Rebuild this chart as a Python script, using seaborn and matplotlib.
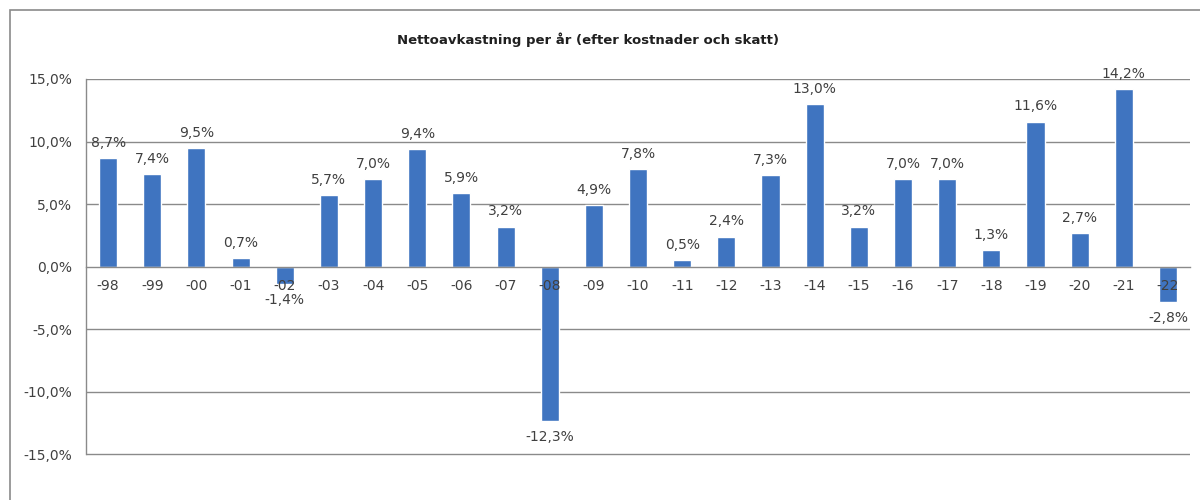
import matplotlib
matplotlib.use("Agg")
import matplotlib.pyplot as plt
import matplotlib.patches as mpatches
from matplotlib.ticker import FuncFormatter, FixedLocator
import seaborn as sns
import pandas as pd

years = ["-98", "-99", "-00", "-01", "-02", "-03", "-04", "-05", "-06", "-07", "-08", "-09",
         "-10", "-11", "-12", "-13", "-14", "-15", "-16", "-17", "-18", "-19", "-20", "-21", "-22"]
returns = [8.7, 7.4, 9.5, 0.7, -1.4, 5.7, 7.0, 9.4, 5.9, 3.2, -12.3, 4.9,
           7.8, 0.5, 2.4, 7.3, 13.0, 3.2, 7.0, 7.0, 1.3, 11.6, 2.7, 14.2, -2.8]
title = "Nettoavkastning per år (efter kostnader och skatt)"
yticks = [-15, -10, -5, 0, 5, 10, 15]

sns.set_theme(style="white")
plt.rcParams["font.family"] = ["DejaVu Sans"]

df = pd.DataFrame({"year": years, "ret": returns})

fig = plt.figure(figsize=(12, 5), dpi=100)
ax = fig.add_axes([0.0717, 0.088, 0.92, 0.754])

sns.barplot(data=df, x="year", y="ret", color="#3F74C0", saturation=1, width=0.41, ax=ax, zorder=2)
ax.set_axisbelow(False)

ax.set_ylim(-15.12, 15)
ax.set_xlim(-0.5, len(years) - 0.5)
ax.set_xlabel("")
ax.set_ylabel("")

ax.yaxis.set_major_locator(FixedLocator(yticks))
ax.yaxis.set_major_formatter(FuncFormatter(lambda v, p: f"{v:.1f}%".replace(".", ",")))
ax.grid(False)
for t in yticks:
    if t != 0:
        ax.axhline(t, color="#8a8a8a", linewidth=1.0, zorder=0)

for s in ["top", "right"]:
    ax.spines[s].set_visible(False)
ax.spines["left"].set_color("#8a8a8a")
ax.spines["left"].set_linewidth(1.0)
ax.spines["left"].set_bounds(-15, 15)
ax.spines["bottom"].set_position(("data", 0))
ax.spines["bottom"].set_color("#8a8a8a")
ax.spines["bottom"].set_linewidth(1.0)

ax.tick_params(axis="y", which="major", length=4, width=1, color="#8a8a8a", direction="out",
               labelsize=10, labelcolor="#404040", pad=6)
ax.tick_params(axis="x", which="major", length=0, labelsize=10, labelcolor="#404040", pad=9)
ax.set_xticks([i + 0.5 for i in range(len(years) - 1)], minor=True)
ax.tick_params(axis="x", which="minor", length=4, width=1, color="#8a8a8a", direction="out")

for i, v in enumerate(returns):
    txt = f"{v:.1f}%".replace(".", ",")
    if v >= 0:
        ax.annotate(txt, (i, v), xytext=(0, 6), textcoords="offset points",
                    ha="center", va="bottom", fontsize=10, color="#404040", zorder=4)
    else:
        ax.annotate(txt, (i, v), xytext=(0, -6.5), textcoords="offset points",
                    ha="center", va="top", fontsize=10, color="#404040", zorder=4)

fig.text(0.49, 0.92, title, ha="center", va="center", fontsize=9.5, fontweight="bold", color="#202020")

border = mpatches.Rectangle((10 / 1200, -0.1), 1.2, 1.08, transform=fig.transFigure,
                            fill=False, edgecolor="#8a8a8a", linewidth=1.2)
fig.patches.append(border)

fig.savefig("out.png", dpi=100)
